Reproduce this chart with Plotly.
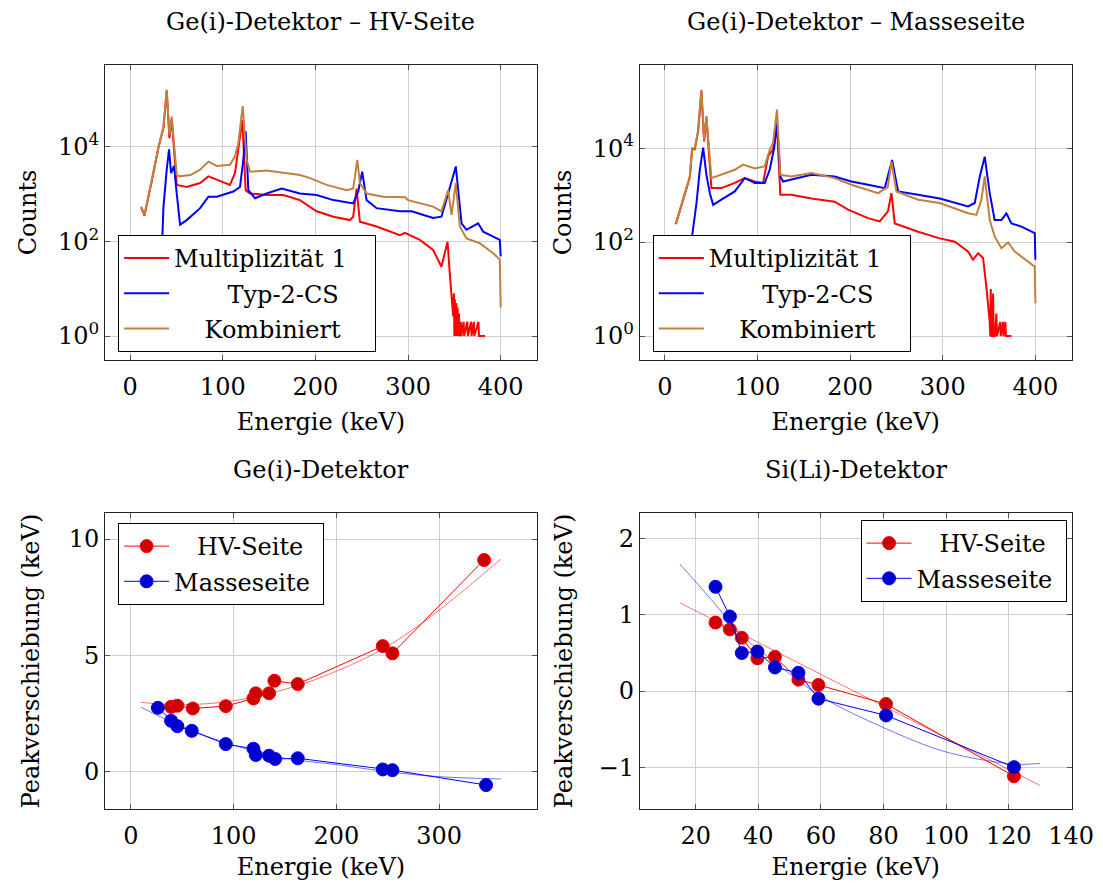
import plotly.graph_objects as go

# ---------------- Top-left: Ge(i) HV-Seite spectra ----------------
hv_m1_E = [11.9, 15.5, 23.4, 30.6, 36.0, 39.5, 42.4, 44.9, 50.3, 61.1, 75.5, 84.5, 93.5, 107.8,
           113.2, 117.9, 121.1, 124.7, 129.4, 147.4, 165.4, 183.3, 201.3, 219.3, 237.2, 240.8,
           244.4, 248.0, 266.0, 291.2, 296.6, 312.7, 327.0, 336.0, 342.6, 345.0, 348.7,
           349.5, 350.0, 350.5, 351.0, 352.0, 352.5, 353.5, 354.0, 355.0, 355.5, 357.0, 357.5,
           360.0, 360.5, 364.0, 364.5, 368.0, 368.5, 371.0, 371.5, 376.0, 376.5, 383.0]
hv_m1_C = [520, 350, 1900, 9500, 25000, 150000, 15000, 38000, 1550, 1400, 1700, 2350, 2000, 1550,
           2750, 11700, 36000, 1200, 1020, 950, 950, 740, 430, 330, 280, 330,
           1300, 260, 205, 135, 150, 107, 66, 29, 98, 21, 2.6,
           8, 1, 6, 1, 5, 1, 4, 1, 3, 1, 2, 1,
           2, 1, 2, 1, 2, 1, 2, 1, 2, 1, 1]

hv_t2_E = [31.0, 36.0, 39.5, 42.0, 44.2, 47.4, 50.3, 53.9, 61.1, 75.5, 84.5, 93.5, 111.4, 118.6,
           122.2, 124.7, 127.6, 134.8, 147.4, 163.5, 183.3, 201.3, 219.3, 240.8, 246.2, 250.5,
           255.2, 266.0, 291.2, 303.8, 327.0, 336.0, 343.3, 351.5, 357.7, 363.0, 375.6, 381.0,
           399.0, 400.0]
hv_t2_C = [1, 540, 3240, 8700, 2750, 3900, 1020, 224, 280, 500, 870, 870, 1120, 1400,
           5200, 21000, 1200, 810, 1020, 1300, 1020, 950, 740, 630, 1120, 2950,
           740, 500, 430, 430, 310, 330, 1020, 3800, 240, 175, 240, 160,
           107, 48]

hv_k_E = [11.9, 15.5, 23.4, 30.6, 36.0, 39.5, 42.4, 44.9, 50.3, 53.9, 65.0, 75.5, 84.5, 93.5,
          107.8, 113.2, 116.8, 121.5, 125.8, 129.4, 147.4, 165.4, 183.3, 194.1, 212.0, 233.6,
          240.8, 245.2, 248.0, 255.2, 273.2, 296.6, 300.0, 327.0, 336.0, 343.3, 346.9, 351.5,
          355.9, 363.0, 377.4, 391.8, 399.0, 400.0]
hv_k_C = [540, 360, 2000, 9800, 26000, 158000, 17800, 42700, 2500, 2350, 2500, 3240, 4800, 3900,
          4100, 6200, 11700, 71000, 5200, 2950, 3100, 2750, 2500, 2150, 1550, 1200,
          1300, 5200, 1700, 1020, 870, 850, 740, 540, 430, 1200, 360, 1700,
          205, 115, 91, 56, 41, 4]

# ---------------- Top-right: Ge(i) Masseseite spectra ----------------
ms_m1_E = [11.9, 21.6, 27.0, 29.5, 32.4, 36.0, 39.5, 42.4, 44.9, 50.3, 61.1, 75.5, 86.3, 97.1,
           106.1, 111.5, 116.8, 121.1, 124.7, 136.7, 158.3, 183.3, 197.8, 219.4, 232.0, 240.8,
           244.6, 248.2, 273.4, 296.8, 313.0, 327.3, 332.7, 338.1, 343.5, 347.1, 350.7,
           351.3, 351.8, 352.4, 353.5, 354.3, 355.0, 356.5, 357.9, 358.5, 362.0, 362.5,
           365.0, 365.5, 367.6, 368.2, 374.0]
ms_m1_C = [240, 1050, 2400, 9500, 9500, 23000, 165000, 14000, 45000, 1410, 1410, 1820, 2300, 1950,
           1820, 6760, 9300, 28800, 1020, 1020, 850, 725, 490, 324, 275, 450,
           1100, 250, 166, 120, 102, 63, 42, 58, 46, 11, 2,
           1, 10, 1, 1, 8, 1, 1, 3, 1, 2, 1,
           2, 1, 2, 1, 1]

ms_t2_E = [27.0, 29.5, 34.2, 37.8, 41.4, 44.9, 48.6, 52.2, 61.1, 75.5, 86.3, 97.1, 107.8, 113.2,
           118.0, 121.1, 124.7, 127.7, 136.7, 158.3, 183.3, 201.3, 219.4, 237.4, 245.3, 251.8,
           273.4, 296.8, 327.3, 334.5, 340.0, 345.3, 350.7, 356.0, 363.3, 368.7, 374.1, 384.9,
           399.3, 400.0]
ms_t2_C = [1, 135, 680, 3470, 10200, 2700, 1100, 620, 800, 1200, 2300, 1820, 1820, 3470,
           10000, 34000, 2500, 1950, 2140, 2700, 2500, 1950, 1660, 1410, 5600, 1200,
           1020, 850, 575, 680, 2500, 6600, 1100, 295, 295, 410, 250, 214,
           155, 42]

ms_k_E = [11.9, 21.6, 27.0, 29.5, 32.4, 36.0, 39.5, 42.4, 44.9, 50.3, 61.1, 75.5, 84.5, 97.1,
          107.8, 113.2, 116.8, 121.1, 124.7, 136.7, 158.3, 183.3, 201.3, 230.2, 240.8, 244.6,
          250.0, 273.4, 296.8, 327.3, 336.3, 341.7, 345.3, 350.7, 356.0, 363.3, 370.5, 377.7,
          399.3, 400.0]
ms_k_C = [250, 1100, 2500, 10000, 10000, 24500, 174000, 15100, 48000, 2300, 2700, 3470, 4470, 3700,
          4100, 9100, 12900, 66000, 2700, 2500, 2950, 2300, 1660, 1100, 1500, 5200,
          1200, 800, 680, 410, 380, 800, 2500, 295, 132, 74, 98, 63,
          30, 5]

# ---------------- Bottom-left: Ge(i) peak shift ----------------
ge_hv_E = [39.2, 45.3, 60.3, 92.4, 119.3, 121.6, 134.5, 139.7, 162.4, 245.1, 254.5, 343.7]
ge_hv_S = [2.79, 2.84, 2.72, 2.82, 3.15, 3.37, 3.37, 3.91, 3.77, 5.40, 5.09, 9.10]
ge_ms_E = [26.3, 39.2, 45.3, 59.3, 92.4, 119.3, 121.6, 134.5, 140.4, 162.4, 245.1, 254.5, 345.6]
ge_ms_S = [2.75, 2.19, 1.96, 1.76, 1.19, 0.99, 0.72, 0.69, 0.55, 0.58, 0.10, 0.07, -0.57]
ge_hv_fit_E = [10, 50, 100, 150, 200, 250, 300, 360]
ge_hv_fit_S = [2.98, 2.88, 3.05, 3.54, 4.32, 5.40, 6.95, 9.14]
ge_ms_fit_E = [10, 45, 92, 150, 200, 250, 300, 360]
ge_ms_fit_S = [2.77, 2.04, 1.25, 0.58, 0.31, 0.00, -0.21, -0.31]

# ---------------- Bottom-right: Si(Li) peak shift ----------------
si_hv_E = [26.3, 30.9, 34.7, 39.7, 45.3, 52.8, 59.2, 80.8, 121.7]
si_hv_S = [0.90, 0.81, 0.70, 0.43, 0.45, 0.15, 0.08, -0.17, -1.12]
si_ms_E = [26.3, 30.9, 34.7, 39.7, 45.3, 52.8, 59.2, 80.8, 121.7]
si_ms_S = [1.37, 0.98, 0.50, 0.52, 0.31, 0.24, -0.10, -0.32, -1.00]
si_hv_fit_E = [14.9, 130]
si_hv_fit_S = [1.16, -1.24]
si_ms_fit_E = [14.9, 25, 35, 45, 60, 80, 100, 122, 130]
si_ms_fit_S = [1.67, 1.20, 0.72, 0.39, -0.07, -0.48, -0.80, -0.96, -0.95]

RED = "#ff0000"
BLUE = "#0000ff"
BROWN = "rgb(191,128,64)"
MRED = "rgb(204,0,0)"
MBLUE = "rgb(0,0,204)"
FONT = "DejaVu Serif"
FS = 24
NB = "\u00a0"
TAIL = NB * 3

fig = go.Figure()

def spec(E, C, color, name, xa, ya, leg, grp):
    fig.add_trace(go.Scatter(x=E, y=C, mode="lines", name=name, legendgroup=grp,
                             line=dict(color=color, width=2),
                             xaxis=xa, yaxis=ya, legend=leg))

spec(hv_m1_E, hv_m1_C, RED, "Multiplizität 1" + TAIL, "x", "y", "legend", "a1")
spec(hv_t2_E, hv_t2_C, BLUE, NB * 7 + "Typ-2-CS" + TAIL, "x", "y", "legend", "a2")
spec(hv_k_E, hv_k_C, BROWN, NB * 4 + "Kombiniert" + TAIL, "x", "y", "legend", "a3")
spec(ms_m1_E, ms_m1_C, RED, "Multiplizität 1" + TAIL, "x2", "y2", "legend2", "b1")
spec(ms_t2_E, ms_t2_C, BLUE, NB * 7 + "Typ-2-CS" + TAIL, "x2", "y2", "legend2", "b2")
spec(ms_k_E, ms_k_C, BROWN, NB * 4 + "Kombiniert" + TAIL, "x2", "y2", "legend2", "b3")

def fit(E, S, color, xa, ya):
    fig.add_trace(go.Scatter(x=E, y=S, mode="lines", showlegend=False,
                             line=dict(color=color, width=1, shape="spline"),
                             opacity=0.55, xaxis=xa, yaxis=ya))

def pts(E, S, lcolor, mcolor, name, xa, ya, leg, grp):
    fig.add_trace(go.Scatter(x=E, y=S, mode="lines+markers", name=name, legendgroup=grp,
                             line=dict(color=lcolor, width=1),
                             marker=dict(symbol="circle", size=13, color=mcolor,
                                         line=dict(color=lcolor, width=1)),
                             xaxis=xa, yaxis=ya, legend=leg))

TAIL2 = NB
fit(ge_hv_fit_E, ge_hv_fit_S, RED, "x3", "y3")
fit(ge_ms_fit_E, ge_ms_fit_S, BLUE, "x3", "y3")
pts(ge_hv_E, ge_hv_S, RED, MRED, NB * 3 + "HV-Seite" + TAIL2, "x3", "y3", "legend3", "c1")
pts(ge_ms_E, ge_ms_S, BLUE, MBLUE, "Masseseite" + TAIL2, "x3", "y3", "legend3", "c2")

fit(si_hv_fit_E, si_hv_fit_S, RED, "x4", "y4")
fit(si_ms_fit_E, si_ms_fit_S, BLUE, "x4", "y4")
pts(si_hv_E, si_hv_S, RED, MRED, NB * 3 + "HV-Seite" + TAIL2, "x4", "y4", "legend4", "d1")
pts(si_ms_E, si_ms_S, BLUE, MBLUE, "Masseseite" + TAIL2, "x4", "y4", "legend4", "d2")

# page has an 8px body margin; the captured page comes out slightly compressed
# horizontally, so horizontal positions are pre-scaled
OFF = 8
SX = 0.98
W, H = 1118, 889 - 2 * OFF
def px(x):
    return (x / SX - OFF) / W
def py(y):
    return 1 - (y - OFF) / H

axis_common = dict(showline=True, linecolor="#222", linewidth=1, mirror="allticks",
                   ticks="inside", ticklen=5, tickcolor="#555", showgrid=True,
                   gridcolor="#cfcfcf", gridwidth=1, zeroline=False,
                   tickfont=dict(family=FONT, size=FS, color="black"))
xaxis_extra = dict(ticklabelstandoff=5)
title_font = dict(family=FONT, size=FS, color="black")

dom_top = [py(360), py(65)]
dom_bot = [py(809), py(513)]
dom_l = [px(105), px(537)]
dom_r = [px(640), px(1072)]

log_ticks = [1, 100, 10000]
log_text = ["10<sup>0</sup>", "10<sup>2</sup>", "10<sup>4</sup>"]

fig.update_layout(
    xaxis=dict(domain=dom_l, anchor="y", range=[-27, 439], tickvals=[0, 100, 200, 300, 400],
               title=dict(text="Energie (keV)", font=title_font, standoff=13), **axis_common, **xaxis_extra),
    yaxis=dict(domain=dom_top, anchor="x", type="log", range=[-0.505, 5.72],
               tickvals=log_ticks, ticktext=log_text,
               title=dict(text="Counts", font=title_font, standoff=14), **axis_common),
    xaxis2=dict(domain=dom_r, anchor="y2", range=[-27, 439], tickvals=[0, 100, 200, 300, 400],
                title=dict(text="Energie (keV)", font=title_font, standoff=13), **axis_common, **xaxis_extra),
    yaxis2=dict(domain=dom_top, anchor="x2", type="log", range=[-0.51, 5.77],
                tickvals=log_ticks, ticktext=log_text,
                title=dict(text="Counts", font=title_font, standoff=14), **axis_common),
    xaxis3=dict(domain=dom_l, anchor="y3", range=[-25, 395], tickvals=[0, 100, 200, 300],
                title=dict(text="Energie (keV)", font=title_font, standoff=14), **axis_common, **xaxis_extra),
    yaxis3=dict(domain=dom_bot, anchor="x3", range=[-1.6, 11.12], tickvals=[0, 5, 10],
                title=dict(text="Peakverschiebung (keV)", font=title_font, standoff=22), **axis_common),
    xaxis4=dict(domain=dom_r, anchor="y4", range=[2.1, 140.1], tickvals=[20, 40, 60, 80, 100, 120, 140],
                title=dict(text="Energie (keV)", font=title_font, standoff=14), **axis_common, **xaxis_extra),
    yaxis4=dict(domain=dom_bot, anchor="x4", range=[-1.55, 2.34], tickvals=[-1, 0, 1, 2],
                title=dict(text="Peakverschiebung (keV)", font=title_font, standoff=19), **axis_common),
)

leg_common = dict(bgcolor="white", bordercolor="black", borderwidth=1,
                  font=dict(family=FONT, size=FS, color="black"), itemwidth=45,
                  tracegroupgap=1)
fig.update_layout(
    legend=dict(x=px(118), y=py(352), xanchor="left", yanchor="bottom", **leg_common),
    legend2=dict(x=px(653), y=py(352), xanchor="left", yanchor="bottom", **leg_common),
    legend3=dict(x=px(118), y=py(523), xanchor="left", yanchor="top", **leg_common),
    legend4=dict(x=px(1067), y=py(520), xanchor="right", yanchor="top", **leg_common),
)

titles = [("Ge(i)-Detektor – HV-Seite", 321, 22), ("Ge(i)-Detektor – Masseseite", 856, 22),
          ("Ge(i)-Detektor", 321, 470), ("Si(Li)-Detektor", 856, 470)]
for t, x, y in titles:
    fig.add_annotation(text=t, x=px(x), y=py(y), xref="paper", yref="paper",
                       xanchor="center", yanchor="middle", showarrow=False,
                       font=dict(family=FONT, size=FS, color="black"))

fig.update_layout(width=W, height=H, margin=dict(l=0, r=0, t=0, b=0),
                  paper_bgcolor="white", plot_bgcolor="white", showlegend=True,
                  font=dict(family=FONT, size=FS, color="black"))

fig.write_html("out.html")
